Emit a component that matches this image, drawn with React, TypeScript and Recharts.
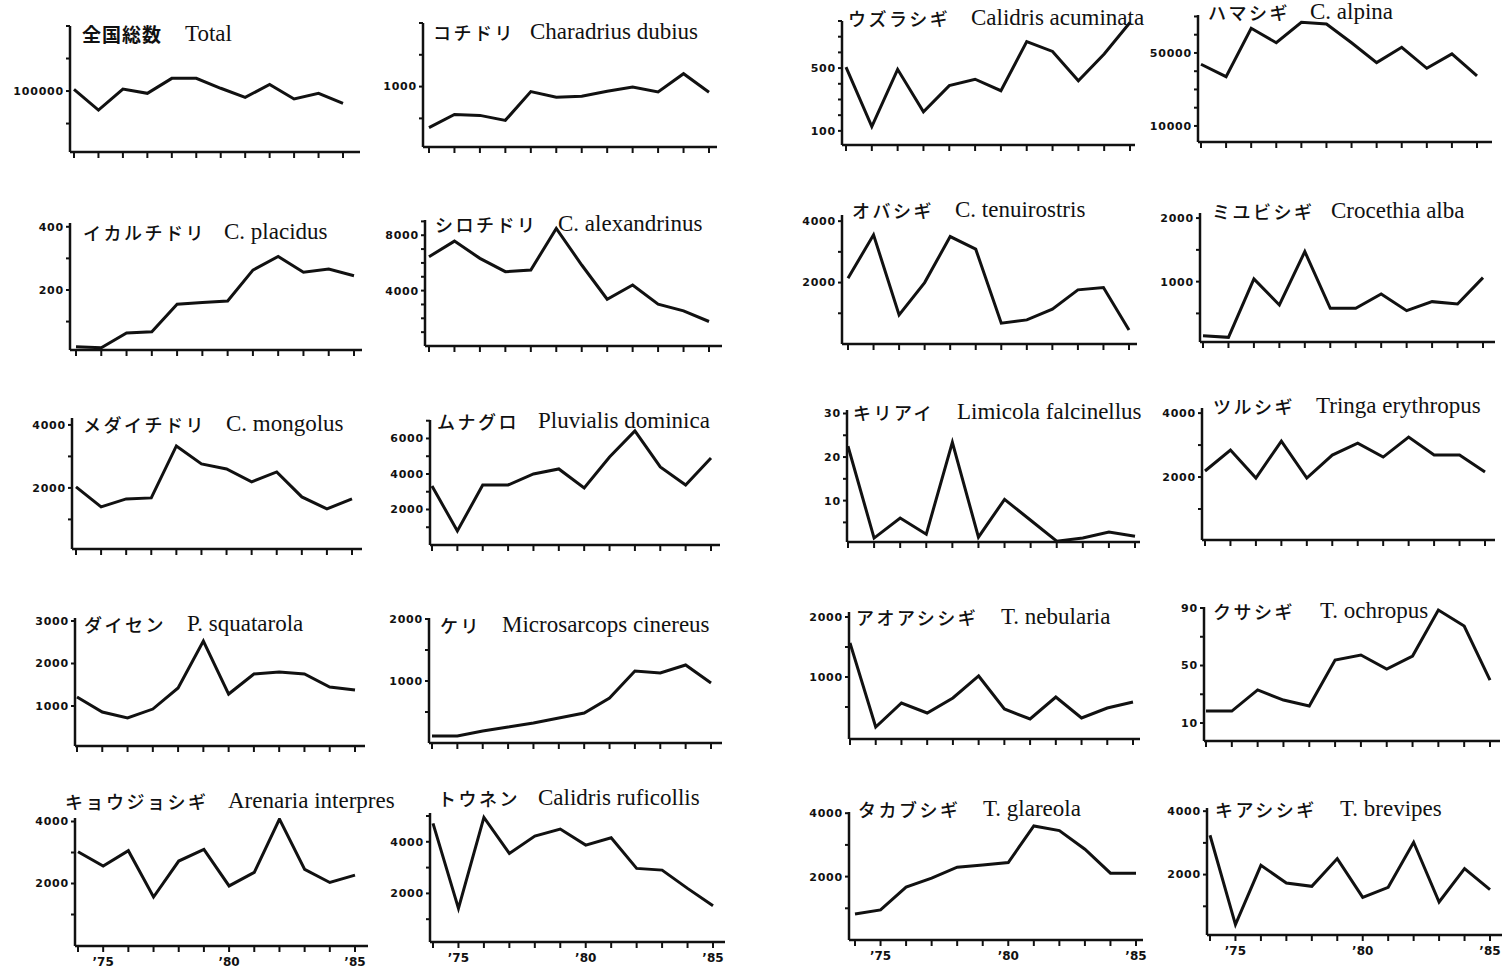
import React from 'react';
import { Line, LineChart, XAxis, YAxis } from 'recharts';

const YEARS = [1974, 1975, 1976, 1977, 1978, 1979, 1980, 1981, 1982, 1983, 1984, 1985];
const YEAR_LABELS: Record<number, string> = { 1975: '\u201975', 1980: '\u201980', 1985: '\u201985' };

// counts per year, 1974–1985
const total = [101000, 88300, 101200, 98600, 107800, 107800, 101700, 96100, 104100, 95100, 98600, 92400];
const charadriusDubius = [355, 562, 547, 469, 922, 833, 848, 927, 995, 917, 1203, 911];
const calidrisAcuminata = [506, 127, 492, 221, 388, 429, 356, 669, 606, 419, 590, 790];
const calidrisAlpina = [43800, 37000, 63500, 55600, 66800, 65900, 55600, 44700, 53100, 41600, 49500, 37400];
const charadriusPlacidus = [20, 17, 64, 68, 155, 160, 165, 263, 306, 256, 266, 245];
const charadriusAlexandrinus = [6446, 7576, 6331, 5367, 5489, 8489, 5849, 3381, 4410, 3022, 2540, 1770];
const calidrisTenuirostris = [2143, 3554, 948, 2000, 3498, 3088, 677, 785, 1134, 1762, 1837, 459];
const crocethiaAlba = [148, 123, 1043, 632, 1473, 580, 580, 806, 543, 685, 648, 1063];
const charadriusMongolus = [2032, 1397, 1651, 1683, 3333, 2762, 2603, 2190, 2508, 1714, 1333, 1651];
const pluvialisDominica = [3324, 789, 3380, 3380, 4000, 4282, 3211, 4958, 6423, 4394, 3380, 4901];
const limicolaFalcinellus = [22.5, 1.4, 6, 2.3, 23.4, 1.6, 10.3, 5.5, 0.7, 1.4, 2.8, 1.8];
const tringaErythropus = [2188, 2844, 1969, 3125, 1969, 2688, 3063, 2625, 3250, 2688, 2688, 2156];
const pluvialisSquatarola = [1212, 859, 718, 929, 1424, 2529, 1282, 1753, 1800, 1753, 1447, 1376];
const microsarcopsCinereus = [113, 113, 194, 258, 323, 403, 484, 726, 1161, 1129, 1258, 968];
const tringaNebularia = [1567, 167, 567, 400, 650, 1017, 467, 300, 667, 317, 483, 583];
const tringaOchropus = [18.3, 18.3, 33, 26, 21.8, 53.8, 57.3, 47.6, 56.6, 88.6, 77.5, 39.9];
const arenariaInterpres = [3026, 2562, 3058, 1565, 2724, 3104, 1922, 2357, 4078, 2455, 2032, 2269];
const calidrisRuficollis = [4713, 1419, 4946, 3550, 4221, 4492, 3872, 4155, 2969, 2903, 2194, 1519];
const tringaGlareola = [823, 950, 1666, 1950, 2297, 2369, 2442, 3599, 3451, 2864, 2107, 2107];
const tringaBrevipes = [3240, 423, 2293, 1735, 1631, 2505, 1284, 1599, 3019, 1136, 2189, 1527];

const steps = (from: number, to: number, step: number) => {
  const out: number[] = [];
  for (let v = from; v <= to + 1e-9; v += step) out.push(v);
  return out;
};

type PanelSpec = {
  jp: string;
  latin: string;
  jpBold?: boolean;
  values: number[];
  jpX: number;
  latinX: number;
  baseline: number;
  top: number;
  bottom: number;
  axisX: number;
  axisEnd: number;
  x0: number;
  x1: number;
  domain: [number, number];
  ticks: number[];
  labels: number[];
  years?: boolean;
};

const panels: PanelSpec[] = [
  { jp: '全国総数', jpBold: true, latin: 'Total', values: total, jpX: 82, latinX: 185, baseline: 41,
    top: 26, bottom: 152, axisX: 70, axisEnd: 360, x0: 74, x1: 343,
    domain: [62500, 140000], ticks: steps(80000, 140000, 20000), labels: [100000] },
  { jp: 'コチドリ', latin: 'Charadrius dubius', values: charadriusDubius, jpX: 433, latinX: 530, baseline: 39,
    top: 23, bottom: 147, axisX: 423, axisEnd: 717, x0: 429, x1: 709,
    domain: [50, 2000], ticks: steps(500, 2000, 500), labels: [1000] },
  { jp: 'ウズラシギ', latin: 'Calidris acuminata', values: calidrisAcuminata, jpX: 848, latinX: 971, baseline: 25,
    top: 21, bottom: 145, axisX: 842, axisEnd: 1135, x0: 846, x1: 1130,
    domain: [10, 800], ticks: steps(100, 800, 100), labels: [100, 500] },
  { jp: 'ハマシギ', latin: 'C. alpina', values: calidrisAlpina, jpX: 1208, latinX: 1310, baseline: 19,
    top: 15, bottom: 142, axisX: 1198, axisEnd: 1492, x0: 1201, x1: 1477,
    domain: [1200, 70800], ticks: steps(10000, 70000, 10000), labels: [10000, 50000] },

  { jp: 'イカルチドリ', latin: 'C. placidus', values: charadriusPlacidus, jpX: 83, latinX: 224, baseline: 239,
    top: 223, bottom: 350, axisX: 70, axisEnd: 362, x0: 76, x1: 354,
    domain: [10, 412], ticks: steps(100, 400, 100), labels: [200, 400] },
  { jp: 'シロチドリ', latin: 'C. alexandrinus', values: charadriusAlexandrinus, jpX: 435, latinX: 558, baseline: 231,
    top: 220, bottom: 346, axisX: 425, axisEnd: 722, x0: 429, x1: 709,
    domain: [0, 9100], ticks: steps(1000, 9000, 1000), labels: [4000, 8000] },
  { jp: 'オバシギ', latin: 'C. tenuirostris', values: calidrisTenuirostris, jpX: 852, latinX: 955, baseline: 217,
    top: 215, bottom: 344, axisX: 842, axisEnd: 1137, x0: 848, x1: 1129,
    domain: [0, 4200], ticks: steps(1000, 4000, 1000), labels: [2000, 4000] },
  { jp: 'ミユビシギ', latin: 'Crocethia alba', values: crocethiaAlba, jpX: 1212, latinX: 1331, baseline: 218,
    top: 213, bottom: 342, axisX: 1200, axisEnd: 1495, x0: 1203, x1: 1483,
    domain: [50, 2080], ticks: steps(500, 2000, 500), labels: [1000, 2000] },

  { jp: 'メダイチドリ', latin: 'C. mongolus', values: charadriusMongolus, jpX: 83, latinX: 226, baseline: 431,
    top: 418, bottom: 549, axisX: 72, axisEnd: 362, x0: 76, x1: 352,
    domain: [60, 4220], ticks: steps(1000, 4000, 1000), labels: [2000, 4000] },
  { jp: 'ムナグロ', latin: 'Pluvialis dominica', values: pluvialisDominica, jpX: 437, latinX: 538, baseline: 428,
    top: 420, bottom: 545, axisX: 430, axisEnd: 720, x0: 432, x1: 711,
    domain: [0, 7040], ticks: steps(1000, 7000, 1000), labels: [2000, 4000, 6000] },
  { jp: 'キリアイ', latin: 'Limicola falcinellus', values: limicolaFalcinellus, jpX: 853, latinX: 957, baseline: 419,
    top: 410, bottom: 542, axisX: 847, axisEnd: 1140, x0: 848, x1: 1135,
    domain: [0.5, 30.8], ticks: steps(5, 30, 5), labels: [10, 20, 30] },
  { jp: 'ツルシギ', latin: 'Tringa erythropus', values: tringaErythropus, jpX: 1213, latinX: 1316, baseline: 413,
    top: 408, bottom: 540, axisX: 1202, axisEnd: 1495, x0: 1205, x1: 1485,
    domain: [30, 4160], ticks: steps(1000, 4000, 1000), labels: [2000, 4000] },

  { jp: 'ダイセン', latin: 'P. squatarola', values: pluvialisSquatarola, jpX: 84, latinX: 187, baseline: 631,
    top: 618, bottom: 746, axisX: 75, axisEnd: 365, x0: 77, x1: 355,
    domain: [60, 3070], ticks: steps(1000, 3000, 1000), labels: [1000, 2000, 3000] },
  { jp: 'ケリ', latin: 'Microsarcops cinereus', values: microsarcopsCinereus, jpX: 440, latinX: 502, baseline: 632,
    top: 618, bottom: 743, axisX: 429, axisEnd: 722, x0: 432, x1: 711,
    domain: [0, 2016], ticks: steps(500, 2000, 500), labels: [1000, 2000] },
  { jp: 'アオアシシギ', latin: 'T. nebularia', values: tringaNebularia, jpX: 856, latinX: 1001, baseline: 624,
    top: 612, bottom: 739, axisX: 849, axisEnd: 1140, x0: 850, x1: 1133,
    domain: [-33, 2083], ticks: steps(500, 2000, 500), labels: [1000, 2000] },
  { jp: 'クサシギ', latin: 'T. ochropus', values: tringaOchropus, jpX: 1213, latinX: 1320, baseline: 618,
    top: 607, bottom: 741, axisX: 1204, axisEnd: 1500, x0: 1206, x1: 1490,
    domain: [-2.5, 90.7], ticks: steps(10, 90, 20), labels: [10, 50, 90] },

  { jp: 'キョウジョシギ', latin: 'Arenaria interpres', values: arenariaInterpres, jpX: 65, latinX: 228, baseline: 808,
    top: 818, bottom: 946, axisX: 75, axisEnd: 368, x0: 78, x1: 355,
    domain: [-16, 4113], ticks: steps(1000, 4000, 1000), labels: [2000, 4000], years: true },
  { jp: 'トウネン', latin: 'Calidris ruficollis', values: calidrisRuficollis, jpX: 438, latinX: 538, baseline: 805,
    top: 813, bottom: 942, axisX: 430, axisEnd: 725, x0: 433, x1: 713,
    domain: [116, 5116], ticks: steps(1000, 5000, 1000), labels: [2000, 4000], years: true },
  { jp: 'タカブシギ', latin: 'T. glareola', values: tringaGlareola, jpX: 858, latinX: 983, baseline: 816,
    top: 812, bottom: 940, axisX: 849, axisEnd: 1143, x0: 855, x1: 1136,
    domain: [0, 4038], ticks: steps(1000, 4000, 1000), labels: [2000, 4000], years: true },
  { jp: 'キアシシギ', latin: 'T. brevipes', values: tringaBrevipes, jpX: 1215, latinX: 1340, baseline: 816,
    top: 808, bottom: 935, axisX: 1207, axisEnd: 1502, x0: 1210, x1: 1490,
    domain: [95, 4100], ticks: steps(1000, 4000, 1000), labels: [2000, 4000], years: true },
];

const Y_W = 56;
const M_TOP = 4;
const M_RIGHT = 6;
const X_H = 24;
const INK = '#111';

function Panel({ p }: { p: PanelSpec }) {
  const data = YEARS.map((year, i) => ({ year, value: p.values[i] }));
  const perYear = (p.x1 - p.x0) / 11;
  const xDomain: [number, number] = [
    1974 - (p.x0 - p.axisX) / perYear,
    1985 + (p.axisEnd - p.x1) / perYear,
  ];
  const width = Y_W + (p.axisEnd - p.axisX) + M_RIGHT;
  const height = M_TOP + (p.bottom - p.top) + X_H;

  return (
    <div style={{ position: 'absolute', left: p.axisX - Y_W, top: p.top - M_TOP }}>
      <LineChart width={width} height={height} data={data} margin={{ top: M_TOP, right: M_RIGHT, bottom: 0, left: 0 }}>
        <XAxis
          dataKey="year"
          type="number"
          domain={xDomain}
          allowDataOverflow
          ticks={YEARS}
          interval={0}
          height={X_H}
          tickSize={6}
          tickMargin={5}
          axisLine={{ stroke: INK, strokeWidth: 2.5 }}
          tickLine={{ stroke: INK, strokeWidth: 2 }}
          tick={{ fill: INK, fontSize: 12, fontWeight: 700, fontFamily: 'DejaVu Sans' }}
          tickFormatter={(v: number) => (p.years ? YEAR_LABELS[v] ?? '' : '')}
        />
        <YAxis
          type="number"
          domain={p.domain}
          allowDataOverflow
          ticks={p.ticks}
          interval={0}
          width={Y_W}
          tickSize={4}
          tickMargin={2}
          axisLine={{ stroke: INK, strokeWidth: 2.5 }}
          tickLine={{ stroke: INK, strokeWidth: 2 }}
          tick={{ fill: INK, fontSize: 11, fontWeight: 700, fontFamily: 'DejaVu Sans', letterSpacing: 0.8 }}
          tickFormatter={(v: number) => (p.labels.includes(v) ? String(v) : '')}
        />
        <Line
          type="linear"
          dataKey="value"
          stroke={INK}
          strokeWidth={3}
          strokeLinejoin="miter"
          dot={false}
          isAnimationActive={false}
        />
      </LineChart>
    </div>
  );
}

export default function App() {
  return (
    <div style={{ position: 'absolute', left: 0, top: 0, width: 1507, height: 970, background: '#fff', overflow: 'hidden' }}>
      {panels.map((p) => (
        <Panel key={p.latin} p={p} />
      ))}
      <svg width={1507} height={970} style={{ position: 'absolute', left: 0, top: 0, pointerEvents: 'none' }}>
        {panels.map((p) => (
          <g key={p.latin}>
            <text
              x={p.jpX}
              y={p.baseline + 1}
              fill={INK}
              fontFamily="'Noto Sans CJK JP'"
              fontSize={p.jpBold ? 19 : 18}
              fontWeight={p.jpBold ? 700 : 500}
              letterSpacing={p.jpBold ? 1 : 2.5}
            >
              {p.jp}
            </text>
            <text x={p.latinX} y={p.baseline} fill={INK} fontFamily="'Liberation Serif'" fontSize={23}>
              {p.latin}
            </text>
          </g>
        ))}
      </svg>
    </div>
  );
}
